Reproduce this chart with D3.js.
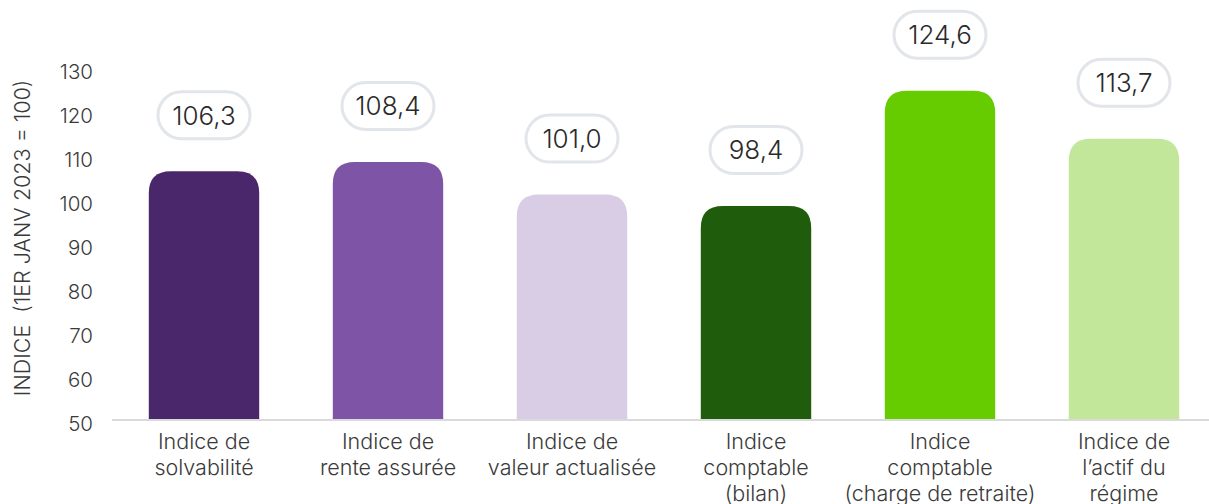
<!DOCTYPE html>
<html>
<head>
<meta charset="utf-8">
<script src="https://cdn.jsdelivr.net/npm/d3@7"></script>
<style>
  body { margin: 0; background: #fff; }
  text { font-family: Inter, Roboto, "Liberation Sans", Arial, sans-serif; font-weight: 300; }
</style>
</head>
<body>
<svg class="chart" width="1209" height="504"></svg>
<script>
// Data
const categories = [
  ["Indice de", "solvabilité"],
  ["Indice de", "rente assurée"],
  ["Indice de", "valeur actualisée"],
  ["Indice", "comptable", "(bilan)"],
  ["Indice", "comptable", "(charge de retraite)"],
  ["Indice de", "l’actif du", "régime"]
];
const values = [106.3, 108.4, 101.0, 98.4, 124.6, 113.7];
const valueLabels = ["106,3", "108,4", "101,0", "98,4", "124,6", "113,7"];
const colors = ["#4a266a", "#7e55a6", "#d9cde6", "#1f5c0c", "#66cc00", "#c2e79a"];
const yTicks = [50, 60, 70, 80, 90, 100, 110, 120, 130];

const svg = d3.select(".chart");

// Scales
const x = d3.scaleBand()
  .domain(d3.range(values.length))
  .range([112, 1216])
  .paddingInner(0.4)
  .paddingOuter(0.2);

const y = d3.scaleLinear().domain([50, 130]).range([419, 67]);

// y tick labels (no axis line)
const yAxis = svg.append("g")
  .attr("transform", "translate(100,0)")
  .call(d3.axisLeft(y).tickValues(yTicks).tickSize(0).tickPadding(7));
yAxis.select(".domain").remove();
yAxis.selectAll("text")
  .attr("dy", "0.55em")
  .style("font-size", "20.5px")
  .style("fill", "#3a3a3a")
  .style("font-family", "Inter, Roboto, Arial, sans-serif")
  .style("font-weight", "300");

// y axis title
svg.append("text")
  .attr("transform", "translate(30,238) rotate(-90)")
  .style("text-anchor", "middle")
  .style("font-size", "21.5px")
  .style("fill", "#3a3a3a")
  .attr("xml:space", "preserve")
  .text("INDICE  (1ER JANV 2023 = 100)");

// rounded-top bar path
const r = 22;
function barPath(x0, w, yTop, yBase) {
  const rr = Math.min(r, (yBase - yTop), w / 2);
  return `M${x0},${yBase}V${yTop + rr}Q${x0},${yTop} ${x0 + rr},${yTop}` +
    `H${x0 + w - rr}Q${x0 + w},${yTop} ${x0 + w},${yTop + rr}V${yBase}Z`;
}

svg.selectAll(".bar")
  .data(values)
  .enter()
  .append("path")
  .attr("class", "bar")
  .attr("fill", (d, i) => colors[i])
  .attr("d", (d, i) => barPath(x(i), x.bandwidth(), y(d), y(50)));

// baseline
svg.append("line")
  .attr("x1", 112).attr("x2", 1209)
  .attr("y1", y(50) + 1).attr("y2", y(50) + 1)
  .attr("stroke", "#dadada")
  .attr("stroke-width", 2);

// value bubbles
const bw = 92, bh = 47;
const bubbles = svg.selectAll(".bubble")
  .data(values)
  .enter()
  .append("g")
  .attr("class", "bubble")
  .attr("transform", (d, i) => `translate(${x(i) + x.bandwidth() / 2}, ${y(d) - 56})`);

bubbles.append("rect")
  .attr("x", -bw / 2).attr("y", -bh / 2)
  .attr("width", bw).attr("height", bh)
  .attr("rx", bh / 2)
  .attr("fill", "#fff")
  .attr("stroke", "#e2e5e9")
  .attr("stroke-width", 3);

bubbles.append("text")
  .attr("text-anchor", "middle")
  .attr("dy", "0.36em")
  .style("font-size", "26px")
  .style("fill", "#2a2a2a")
  .text((d, i) => valueLabels[i]);

// category labels
const cat = svg.selectAll(".cat")
  .data(categories)
  .enter()
  .append("text")
  .attr("class", "cat")
  .attr("text-anchor", "middle")
  .style("font-size", "21.5px")
  .style("fill", "#3a3a3a");

cat.selectAll("tspan")
  .data((d, i) => d.map((line) => ({ line, i })))
  .enter()
  .append("tspan")
  .attr("x", (d) => x(d.i) + x.bandwidth() / 2)
  .attr("y", (d, j) => 449 + j * 26)
  .text((d) => d.line);
</script>
</body>
</html>
